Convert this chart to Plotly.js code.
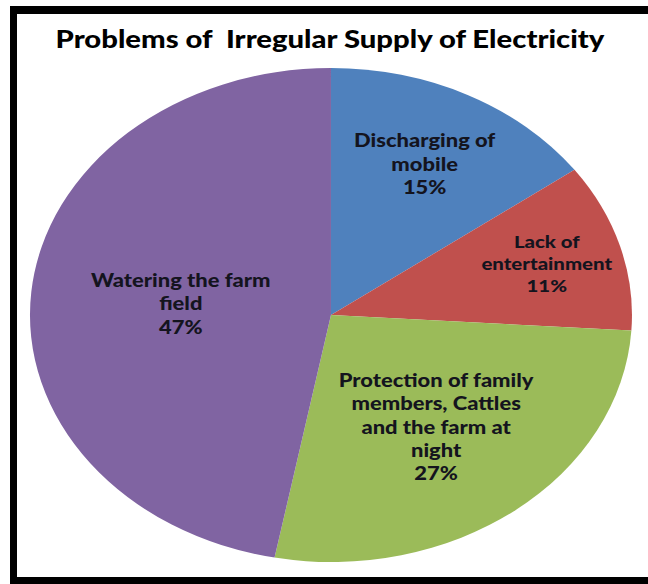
<!DOCTYPE html>
<html>
<head>
<meta charset="utf-8">
<script src="https://cdn.plot.ly/plotly-3.0.1.min.js"></script>
<style>
  html, body { margin: 0; padding: 0; width: 648px; height: 584px; overflow: hidden; background: #fff; }
  #frame { position: absolute; left: 10px; top: 6px; width: 700px; height: 578px; box-sizing: border-box;
           border-left: 7px solid #000; border-top: 8px solid #000; border-bottom: 7px solid #000; border-right: none; z-index: 2; pointer-events: none; }
  #chart { position: absolute; left: 0; top: 0; width: 532px; height: 584px; transform: scaleX(1.2186); transform-origin: 0 0; }
</style>
</head>
<body>
<div id="chart"></div>
<div id="frame"></div>
<script>
const chartTitle = "Problems of  Irregular Supply of Electricity";
const categories = [
  "Discharging of mobile",
  "Lack of entertainment",
  "Protection of family members, Cattles and the farm at night",
  "Watering the farm field"
];
const sliceText = [
  "Discharging of<br>mobile",
  "Lack of<br>entertainment",
  "Protection of family<br>members, Cattles<br>and the farm at<br>night",
  "Watering the farm<br>field"
];
const values = [15, 11, 27, 47];
const colors = ["#4F81BD", "#C0504D", "#9BBB59", "#8064A2"];

const W = 532, H = 584;
const cx = 271.6, cy = 315, r = 247;

const trace = {
  type: "pie",
  labels: categories,
  values: values,
  text: sliceText,
  sort: false,
  direction: "clockwise",
  rotation: 0,
  marker: { colors: colors, line: { width: 0 } },
  textinfo: "text+percent",
  texttemplate: "%{text}<br>%{percent:.0%}",
  textposition: "inside",
  insidetextorientation: "horizontal",
  insidetextfont: { family: "Lato, 'Open Sans', sans-serif", size: 18, color: "#14141e", weight: 900 },
  hoverinfo: "label+percent",
  domain: { x: [(cx - r) / W, (cx + r) / W], y: [(H - cy - r) / H, (H - cy + r) / H] },
  showlegend: false
};

const layout = {
  width: W, height: H,
  margin: { l: 0, r: 0, t: 0, b: 0 },
  paper_bgcolor: "#fff",
  title: {
    text: chartTitle,
    x: 0.509, xanchor: "center",
    y: 1 - 40 / H, yanchor: "middle",
    font: { family: "Lato, 'Open Sans', sans-serif", size: 24, color: "#000", weight: 900 }
  },
  showlegend: false
};

Plotly.newPlot("chart", [trace], layout, { staticPlot: true, displayModeBar: false });
</script>
</body>
</html>
